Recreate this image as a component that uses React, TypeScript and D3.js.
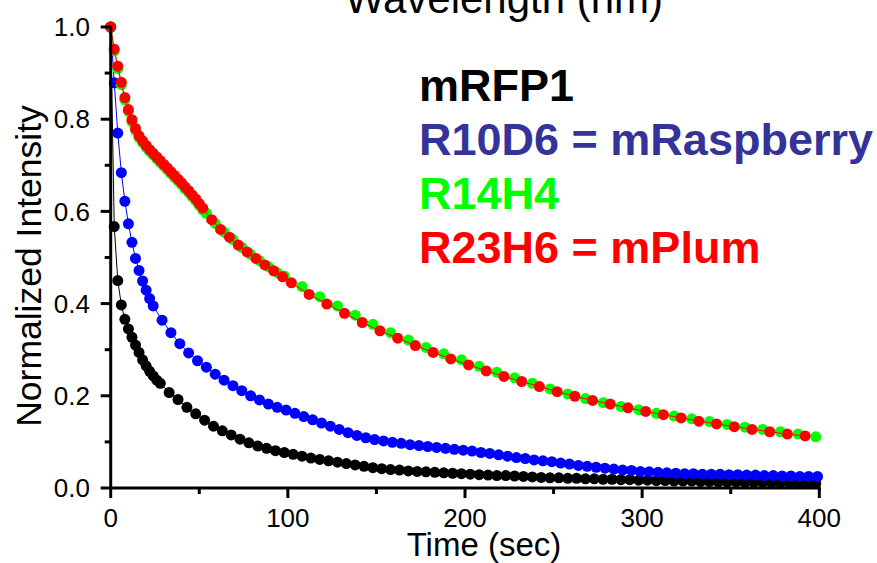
import React from 'react';
import * as d3 from 'd3';

// ---- data ----
const mrfp1Time = [
  0, 2, 4, 6, 8, 10, 12, 14, 16, 18, 20, 22, 24, 26, 28,
  33, 38, 43, 48, 53, 58, 63, 68, 73, 78,
  83, 88, 93, 98, 103, 108, 113, 118, 123, 128,
  133, 138, 143, 148, 153, 158, 163, 168, 173, 178,
  183, 188, 193, 198, 203, 208, 213, 218, 223, 228,
  233, 238, 243, 248, 253, 258, 263, 268, 273, 278,
  283, 288, 293, 298, 303, 308, 313, 318, 323, 328,
  333, 338, 343, 348, 353, 358, 363, 368, 373, 378,
  383, 388, 393, 398,
];
const mrfp1Value = [
  1.0, 0.567, 0.450, 0.397, 0.366, 0.345, 0.327, 0.310, 0.294, 0.278, 0.265, 0.253, 0.243, 0.234, 0.227,
  0.207, 0.192, 0.175, 0.161, 0.147, 0.134, 0.124, 0.115, 0.106, 0.098,
  0.091, 0.086, 0.081, 0.077, 0.073, 0.069, 0.065, 0.062, 0.059, 0.056,
  0.053, 0.050, 0.047, 0.044, 0.042, 0.040, 0.039, 0.037, 0.036, 0.035,
  0.034, 0.033, 0.032, 0.031, 0.030, 0.029, 0.028, 0.027, 0.027, 0.026,
  0.025, 0.024, 0.023, 0.022, 0.022, 0.021, 0.021, 0.020, 0.020, 0.019,
  0.019, 0.018, 0.018, 0.017, 0.017, 0.016, 0.016, 0.015, 0.015, 0.015,
  0.014, 0.014, 0.013, 0.013, 0.013, 0.012, 0.012, 0.012, 0.011, 0.011,
  0.011, 0.010, 0.010, 0.010,
];

const r10d6Time = [
  0, 2, 4, 6, 8, 10, 12, 14, 16, 18, 20, 22, 24,
  29, 34, 39, 44, 49, 54, 59, 64, 69, 74,
  79, 84, 89, 94, 99, 104, 109, 114, 119, 124,
  129, 134, 139, 144, 149, 154, 159, 164, 169, 174,
  179, 184, 189, 194, 199, 204, 209, 214, 219, 224,
  229, 234, 239, 244, 249, 254, 259, 264, 269, 274,
  279, 284, 289, 294, 299, 304, 309, 314, 319, 324,
  329, 334, 339, 344, 349, 354, 359, 364, 369, 374,
  379, 384, 389, 394, 399,
];
const r10d6Value = [
  1.0, 0.879, 0.770, 0.684, 0.622, 0.573, 0.533, 0.498, 0.472, 0.449, 0.429, 0.411, 0.395,
  0.364, 0.337, 0.313, 0.293, 0.276, 0.262, 0.247, 0.234, 0.222, 0.211,
  0.200, 0.191, 0.182, 0.175, 0.169, 0.162, 0.155, 0.148, 0.141, 0.134,
  0.127, 0.120, 0.114, 0.109, 0.105, 0.102, 0.099, 0.097, 0.094, 0.092,
  0.090, 0.088, 0.086, 0.084, 0.082, 0.080, 0.077, 0.075, 0.072, 0.069,
  0.066, 0.064, 0.061, 0.059, 0.057, 0.054, 0.052, 0.049, 0.047, 0.045,
  0.043, 0.041, 0.039, 0.038, 0.036, 0.035, 0.034, 0.033, 0.032, 0.031,
  0.031, 0.030, 0.030, 0.030, 0.029, 0.029, 0.028, 0.028, 0.027, 0.027,
  0.026, 0.026, 0.025, 0.025, 0.025,
];

const r14h4Time = [
  0, 2, 4, 6, 8, 10, 12, 14, 16, 18, 20, 22, 24, 26, 28, 30, 32, 34, 36, 38, 40, 42, 44, 46, 48, 50, 52,
  54, 59, 64, 69, 74, 79, 84, 89, 94,
  98, 108, 118, 128, 138, 148, 158, 168, 178, 188,
  198, 208, 218, 228, 238, 248, 258, 268, 278, 288,
  298, 308, 318, 328, 338, 348, 358, 368, 378, 388, 398,
];
const r14h4Value = [
  1.0, 0.948, 0.910, 0.875, 0.842, 0.817, 0.795, 0.776, 0.760, 0.749, 0.739, 0.730, 0.722, 0.714,
  0.706, 0.698, 0.690, 0.682, 0.674, 0.666, 0.658, 0.649, 0.641, 0.632, 0.623, 0.613, 0.603,
  0.596, 0.574, 0.555, 0.539, 0.522, 0.507, 0.493, 0.480, 0.467,
  0.460, 0.437, 0.415, 0.395, 0.375, 0.355, 0.337, 0.321, 0.305, 0.291,
  0.278, 0.264, 0.251, 0.239, 0.227, 0.215, 0.204, 0.194, 0.185, 0.177,
  0.170, 0.162, 0.156, 0.150, 0.144, 0.138, 0.132, 0.127, 0.122, 0.117, 0.111,
];

const r23h6Time = [
  0, 2, 4, 6, 8, 10, 12, 14, 16, 18, 20, 22, 24, 26, 28, 30, 32, 34, 36, 38, 40, 42, 44, 46, 48, 50, 52,
  57, 62, 67, 72, 77, 82, 87, 92, 97, 102,
  112, 122, 132, 142, 152, 162, 172, 182, 192, 202,
  212, 222, 232, 242, 252, 262, 272, 282, 292, 302,
  312, 322, 332, 342, 352, 362, 372, 382, 392,
];
const r23h6Value = [
  1.0, 0.952, 0.915, 0.880, 0.847, 0.821, 0.799, 0.780, 0.764, 0.753, 0.743, 0.734, 0.726, 0.718,
  0.710, 0.702, 0.694, 0.686, 0.678, 0.670, 0.662, 0.653, 0.645, 0.636, 0.627, 0.617, 0.607,
  0.582, 0.561, 0.544, 0.527, 0.512, 0.498, 0.484, 0.471, 0.458, 0.445,
  0.420, 0.399, 0.379, 0.359, 0.341, 0.325, 0.309, 0.294, 0.280, 0.267,
  0.254, 0.242, 0.231, 0.220, 0.209, 0.199, 0.190, 0.182, 0.174, 0.166,
  0.159, 0.152, 0.145, 0.139, 0.133, 0.127, 0.122, 0.117, 0.113,
];

const legendLabels = ['mRFP1', 'R10D6 = mRaspberry', 'R14H4', 'R23H6 = mPlum'];
const xTicks = [0, 100, 200, 300, 400];
const yTicks = [0, 0.2, 0.4, 0.6, 0.8, 1.0];

const W = 877;
const H = 563;
const FONT = "'Liberation Sans', Arial, Helvetica, sans-serif";

export default function App() {
  const x = d3.scaleLinear().domain([0, 400]).range([110.7, 819.3]);
  const y = d3.scaleLinear().domain([0, 1]).range([488, 27]);

  const series = [
    { t: mrfp1Time, v: mrfp1Value, color: '#000000' },
    { t: r10d6Time, v: r10d6Value, color: '#0000ff' },
    { t: r14h4Time, v: r14h4Value, color: '#00ff00' },
    { t: r23h6Time, v: r23h6Value, color: '#ff0000' },
  ];
  const legendColors = ['#000000', '#333399', '#00ff00', '#ff0000'];

  const line = d3
    .line<[number, number]>()
    .x((d) => x(d[0]))
    .y((d) => y(d[1]));

  const xMinor = [50, 150, 250, 350];
  const yMinor = [0.1, 0.3, 0.5, 0.7, 0.9];
  const x0 = x(0);
  const yb = y(0);

  return (
    <svg
      width={W}
      height={H}
      style={{ position: 'absolute', left: 0, top: 0, background: '#fff' }}
      fontFamily={FONT}
    >
      <rect x={0} y={0} width={W} height={H} fill="#fff" />
      {/* cut-off title from panel above */}
      <text x={504} y={13} fontSize={42} textAnchor="middle" fill="#000">
        Wavelength (nm)
      </text>

      {/* series */}
      {series.map((s, i) => {
        const pts: [number, number][] = s.t.map((t, j) => [t, s.v[j]]);
        return (
          <g key={i}>
            <path d={line(pts) || ''} fill="none" stroke={s.color} strokeWidth={1} />
            {pts.map((p, j) => (
              <circle key={j} cx={x(p[0])} cy={y(p[1])} r={5.5} fill={s.color} />
            ))}
          </g>
        );
      })}

      {/* axes */}
      <line x1={x0} x2={x0} y1={y(1) - 1.5} y2={yb + 1.5} stroke="#000" strokeWidth={3} />
      <line x1={x0 - 1.5} x2={x(400) + 1.5} y1={yb} y2={yb} stroke="#000" strokeWidth={3} />
      {yTicks.map((t) => (
        <g key={'yt' + t}>
          <line x1={x0 - 10} x2={x0} y1={y(t)} y2={y(t)} stroke="#000" strokeWidth={3} />
          <text x={90} y={y(t)} dy="0.35em" fontSize={26} textAnchor="end" fill="#000">
            {t.toFixed(1)}
          </text>
        </g>
      ))}
      {yMinor.map((t) => (
        <line key={'ym' + t} x1={x0 - 6} x2={x0} y1={y(t)} y2={y(t)} stroke="#000" strokeWidth={3} />
      ))}
      {xTicks.map((t) => (
        <g key={'xt' + t}>
          <line x1={x(t)} x2={x(t)} y1={yb} y2={yb + 10} stroke="#000" strokeWidth={3} />
          <text x={x(t)} y={527} fontSize={26} textAnchor="middle" fill="#000">
            {t}
          </text>
        </g>
      ))}
      {xMinor.map((t) => (
        <line key={'xm' + t} x1={x(t)} x2={x(t)} y1={yb} y2={yb + 6} stroke="#000" strokeWidth={3} />
      ))}

      {/* axis titles */}
      <text x={484} y={556} fontSize={33} textAnchor="middle" fill="#000">
        Time (sec)
      </text>
      <text
        transform={`translate(40.5,266) rotate(-90)`}
        fontSize={35.5}
        textAnchor="middle"
        fill="#000"
      >
        Normalized Intensity
      </text>

      {/* legend */}
      {legendLabels.map((l, i) => (
        <text
          key={l}
          x={419}
          y={100.7 + i * 54.2}
          fontSize={45}
          fontWeight="bold"
          fill={legendColors[i]}
        >
          {l}
        </text>
      ))}
    </svg>
  );
}
